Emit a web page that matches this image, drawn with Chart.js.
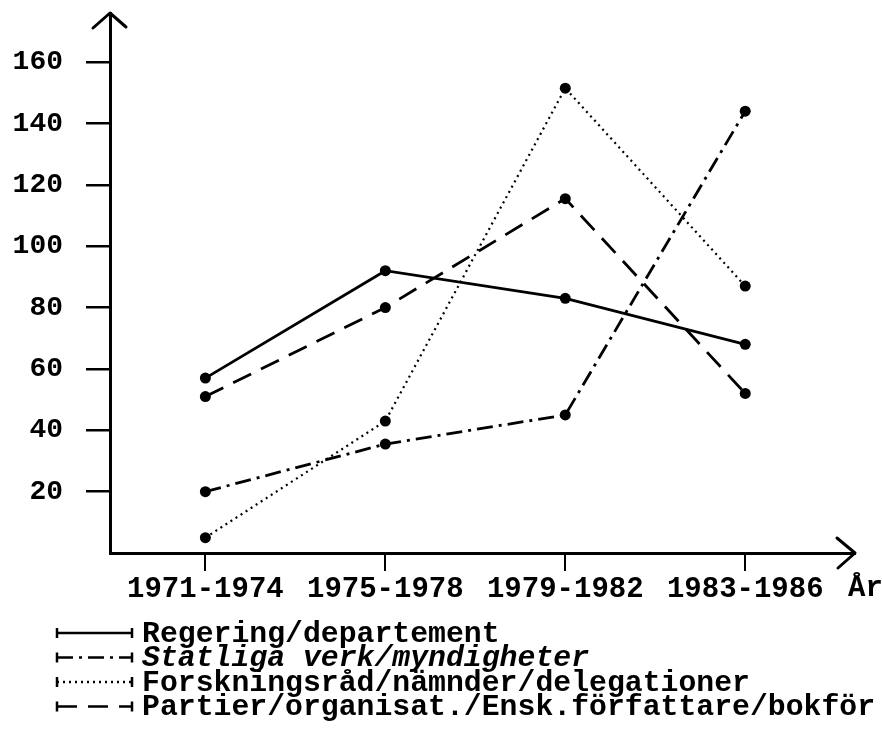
<!DOCTYPE html>
<html>
<head>
<meta charset="utf-8">
<script src="https://cdn.jsdelivr.net/npm/chart.js@4.4.0/dist/chart.umd.min.js"></script>
<style>
  html, body { margin: 0; padding: 0; background: #ffffff; }
  #wrap { width: 882px; height: 736px; }
</style>
</head>
<body>
<div id="wrap"><canvas id="c" width="882" height="736"></canvas></div>
<script>
// ---- data ----
const categories = ['1971-1974', '1975-1978', '1979-1982', '1983-1986'];
const regering   = [57, 92, 83, 68];
const statliga   = [20, 35.5, 45, 144];
const forskning  = [5, 43, 151.5, 87];
const partier    = [51, 80, 115.5, 52];
const seriesNames = [
  'Regering/departement',
  'Statliga verk/myndigheter',
  'Forskningsråd/nämnder/delegationer',
  'Partier/organisat./Ensk.författare/bokför'
];
const yTicks = [20, 40, 60, 80, 100, 120, 140, 160];
const xAxisTitle = 'År';

const FONT = '"Liberation Mono", "Courier New", monospace';
const INK = '#000000';

function pts(arr) { return arr.map((v, i) => ({ x: i, y: v })); }

const styles = [
  { dash: [] , width: 2.8 },
  { dash: [16, 6, 3, 6], width: 2.8 },
  { dash: [2, 4], width: 2.2 },
  { dash: [20, 11], width: 2.8 }
];
const seriesData = [regering, statliga, forskning, partier];

const datasets = seriesData.map((d, i) => ({
  label: seriesNames[i],
  data: pts(d),
  borderColor: INK,
  backgroundColor: INK,
  borderWidth: styles[i].width,
  borderDash: styles[i].dash,
  pointRadius: 5.5,
  pointHoverRadius: 5.5,
  pointBackgroundColor: INK,
  pointBorderWidth: 0,
  tension: 0,
  fill: false
}));

const decorPlugin = {
  id: 'decor',
  afterDraw(chart) {
    const ctx = chart.ctx;
    const a = chart.chartArea;
    ctx.save();
    ctx.strokeStyle = INK;
    ctx.fillStyle = INK;
    ctx.lineWidth = 3;
    ctx.lineCap = 'round';
    ctx.lineJoin = 'round';
    // y arrow head
    ctx.beginPath();
    ctx.moveTo(a.left - 17, a.top + 15);
    ctx.lineTo(a.left, a.top);
    ctx.lineTo(a.left + 16, a.top + 14);
    ctx.stroke();
    // x arrow head
    ctx.beginPath();
    ctx.moveTo(a.right - 18, a.bottom - 15);
    ctx.lineTo(a.right, a.bottom);
    ctx.lineTo(a.right - 17, a.bottom + 15);
    ctx.stroke();
    // axis title "År"
    ctx.font = 'bold 29px ' + FONT;
    ctx.textAlign = 'left';
    ctx.textBaseline = 'alphabetic';
    ctx.fillText(xAxisTitle, a.right - 7, 596);

    // legend
    const x0 = 57, x1 = 132, y0 = 633, dy = 24.5;
    chart.data.datasets.forEach((ds, i) => {
      const y = y0 + i * dy;
      ctx.lineCap = 'butt';
      ctx.lineWidth = 2.5;
      ctx.setLineDash(ds.borderDash);
      ctx.beginPath();
      ctx.moveTo(x0, y);
      ctx.lineTo(x1, y);
      ctx.stroke();
      ctx.setLineDash([]);
      ctx.lineWidth = 2.5;
      ctx.beginPath();
      ctx.moveTo(x0, y - 5); ctx.lineTo(x0, y + 5);
      ctx.moveTo(x1, y - 5); ctx.lineTo(x1, y + 5);
      ctx.stroke();
      ctx.font = (i === 1 ? 'italic ' : '') + 'bold 29.8px ' + FONT;
      ctx.textBaseline = 'middle';
      ctx.fillText(ds.label, 142, y + 1);
    });
    ctx.restore();
  }
};

new Chart(document.getElementById('c'), {
  type: 'line',
  data: { datasets },
  options: {
    responsive: false,
    animation: false,
    events: [],
    layout: { padding: { left: 0, top: 13, right: 27, bottom: 133 } },
    plugins: { legend: { display: false }, tooltip: { enabled: false } },
    scales: {
      x: {
        type: 'linear',
        min: -0.53,
        max: 3.61,
        afterBuildTicks(scale) { scale.ticks = categories.map((_, i) => ({ value: i })); },
        afterFit(scale) { scale.height = 50; scale.paddingLeft = 0; scale.paddingRight = 0; },
        ticks: {
          color: INK,
          padding: 1,
          autoSkip: false,
          maxRotation: 0,
          font: { family: FONT, size: 29, weight: 'bold' },
          callback: (v) => categories[v] !== undefined ? categories[v] : ''
        },
        grid: { drawOnChartArea: false, drawTicks: true, tickLength: 18, color: INK, lineWidth: 2 },
        border: { display: true, color: INK, width: 3 }
      },
      y: {
        type: 'linear',
        min: 0,
        max: 176,
        afterBuildTicks(scale) { scale.ticks = yTicks.map(v => ({ value: v })); },
        afterFit(scale) { scale.width = 110; scale.paddingTop = 0; scale.paddingBottom = 0; },
        ticks: {
          color: INK,
          padding: 23,
          font: { family: FONT, size: 28, weight: 'bold' }
        },
        grid: { drawOnChartArea: false, drawTicks: true, tickLength: 24, color: INK, lineWidth: 2.5 },
        border: { display: true, color: INK, width: 3 }
      }
    }
  },
  plugins: [decorPlugin]
});
</script>
</body>
</html>
